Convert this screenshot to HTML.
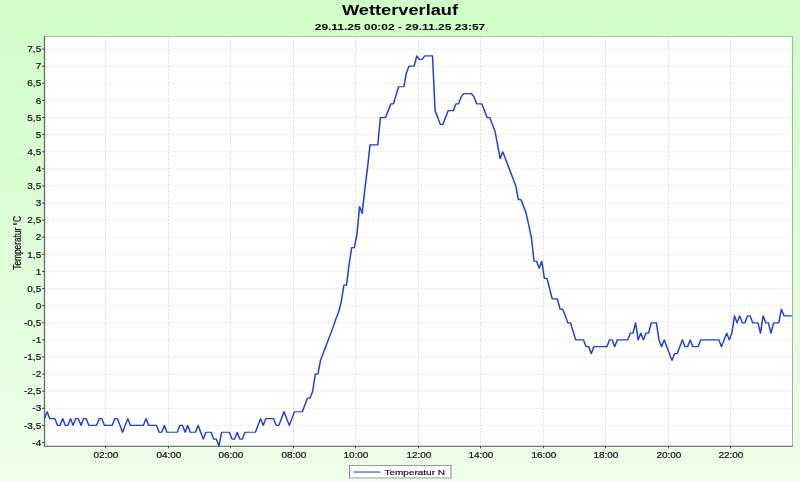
<!DOCTYPE html>
<html><head><meta charset="utf-8"><title>Wetterverlauf</title>
<style>
html,body{margin:0;padding:0;background:#fff;}
body{width:800px;height:481px;overflow:hidden;}
svg{display:block;font-family:"Liberation Sans",Arial,sans-serif;}
</style></head><body>
<svg width="800" height="481" viewBox="0 0 800 481">
<defs><linearGradient id="bg" x1="0" y1="0" x2="0" y2="1">
<stop offset="0" stop-color="#cffdc7"/><stop offset="1" stop-color="#eefeea"/></linearGradient></defs>
<rect x="0" y="0" width="800" height="481" fill="url(#bg)"/>
<g transform="scale(1,0.80167)">
<text x="400" y="18.6" text-anchor="middle" font-size="18" font-weight="bold" fill="#000" textLength="116.2" lengthAdjust="spacingAndGlyphs">Wetterverlauf</text>
<text x="400" y="37.7" text-anchor="middle" font-size="12" font-weight="bold" fill="#000">29.11.25 00:02 - 29.11.25 23:57</text>
<rect x="44.5" y="45.6" width="748.0" height="511.04999999999995" fill="#fff"/>
<g stroke="#cacaca" stroke-width="0.5" stroke-dasharray="2 2" fill="none">
<line x1="44.5" x2="792.5" y1="552.03" y2="552.03"/>
<line x1="44.5" x2="792.5" y1="530.70" y2="530.70"/>
<line x1="44.5" x2="792.5" y1="509.36" y2="509.36"/>
<line x1="44.5" x2="792.5" y1="488.02" y2="488.02"/>
<line x1="44.5" x2="792.5" y1="466.69" y2="466.69"/>
<line x1="44.5" x2="792.5" y1="445.35" y2="445.35"/>
<line x1="44.5" x2="792.5" y1="424.01" y2="424.01"/>
<line x1="44.5" x2="792.5" y1="402.68" y2="402.68"/>
<line x1="44.5" x2="792.5" y1="381.34" y2="381.34"/>
<line x1="44.5" x2="792.5" y1="360.00" y2="360.00"/>
<line x1="44.5" x2="792.5" y1="338.67" y2="338.67"/>
<line x1="44.5" x2="792.5" y1="317.33" y2="317.33"/>
<line x1="44.5" x2="792.5" y1="295.99" y2="295.99"/>
<line x1="44.5" x2="792.5" y1="274.66" y2="274.66"/>
<line x1="44.5" x2="792.5" y1="253.32" y2="253.32"/>
<line x1="44.5" x2="792.5" y1="231.98" y2="231.98"/>
<line x1="44.5" x2="792.5" y1="210.65" y2="210.65"/>
<line x1="44.5" x2="792.5" y1="189.31" y2="189.31"/>
<line x1="44.5" x2="792.5" y1="167.97" y2="167.97"/>
<line x1="44.5" x2="792.5" y1="146.64" y2="146.64"/>
<line x1="44.5" x2="792.5" y1="125.30" y2="125.30"/>
<line x1="44.5" x2="792.5" y1="103.96" y2="103.96"/>
<line x1="44.5" x2="792.5" y1="82.63" y2="82.63"/>
<line x1="44.5" x2="792.5" y1="61.29" y2="61.29"/>
</g>
<g stroke="#c6c6c6" stroke-width="0.7" stroke-dasharray="2 2" fill="none">
<line y1="45.6" y2="556.65" x1="105.50" x2="105.50"/>
<line y1="45.6" y2="556.65" x1="168.50" x2="168.50"/>
<line y1="45.6" y2="556.65" x1="230.50" x2="230.50"/>
<line y1="45.6" y2="556.65" x1="293.50" x2="293.50"/>
<line y1="45.6" y2="556.65" x1="355.50" x2="355.50"/>
<line y1="45.6" y2="556.65" x1="418.50" x2="418.50"/>
<line y1="45.6" y2="556.65" x1="480.50" x2="480.50"/>
<line y1="45.6" y2="556.65" x1="543.50" x2="543.50"/>
<line y1="45.6" y2="556.65" x1="605.50" x2="605.50"/>
<line y1="45.6" y2="556.65" x1="668.50" x2="668.50"/>
<line y1="45.6" y2="556.65" x1="730.50" x2="730.50"/>
</g>
<rect x="44.5" y="45.6" width="748.0" height="511.04999999999995" fill="none" stroke="#a0b4a0" stroke-width="1"/>
<line x1="44.5" x2="44.5" y1="45.1" y2="557.25" stroke="#5e7062" stroke-width="1.3"/>
<line x1="44.5" x2="793.0" y1="556.65" y2="556.65" stroke="#5e7062" stroke-width="1.1"/>
<g stroke="#303830" stroke-width="1">
<line x1="42.0" x2="44.5" y1="552.03" y2="552.03"/>
<line x1="42.0" x2="44.5" y1="530.70" y2="530.70"/>
<line x1="42.0" x2="44.5" y1="509.36" y2="509.36"/>
<line x1="42.0" x2="44.5" y1="488.02" y2="488.02"/>
<line x1="42.0" x2="44.5" y1="466.69" y2="466.69"/>
<line x1="42.0" x2="44.5" y1="445.35" y2="445.35"/>
<line x1="42.0" x2="44.5" y1="424.01" y2="424.01"/>
<line x1="42.0" x2="44.5" y1="402.68" y2="402.68"/>
<line x1="42.0" x2="44.5" y1="381.34" y2="381.34"/>
<line x1="42.0" x2="44.5" y1="360.00" y2="360.00"/>
<line x1="42.0" x2="44.5" y1="338.67" y2="338.67"/>
<line x1="42.0" x2="44.5" y1="317.33" y2="317.33"/>
<line x1="42.0" x2="44.5" y1="295.99" y2="295.99"/>
<line x1="42.0" x2="44.5" y1="274.66" y2="274.66"/>
<line x1="42.0" x2="44.5" y1="253.32" y2="253.32"/>
<line x1="42.0" x2="44.5" y1="231.98" y2="231.98"/>
<line x1="42.0" x2="44.5" y1="210.65" y2="210.65"/>
<line x1="42.0" x2="44.5" y1="189.31" y2="189.31"/>
<line x1="42.0" x2="44.5" y1="167.97" y2="167.97"/>
<line x1="42.0" x2="44.5" y1="146.64" y2="146.64"/>
<line x1="42.0" x2="44.5" y1="125.30" y2="125.30"/>
<line x1="42.0" x2="44.5" y1="103.96" y2="103.96"/>
<line x1="42.0" x2="44.5" y1="82.63" y2="82.63"/>
<line x1="42.0" x2="44.5" y1="61.29" y2="61.29"/>
<line y1="556.65" y2="559.25" x1="105.50" x2="105.50"/>
<line y1="556.65" y2="559.25" x1="168.50" x2="168.50"/>
<line y1="556.65" y2="559.25" x1="230.50" x2="230.50"/>
<line y1="556.65" y2="559.25" x1="293.50" x2="293.50"/>
<line y1="556.65" y2="559.25" x1="355.50" x2="355.50"/>
<line y1="556.65" y2="559.25" x1="418.50" x2="418.50"/>
<line y1="556.65" y2="559.25" x1="480.50" x2="480.50"/>
<line y1="556.65" y2="559.25" x1="543.50" x2="543.50"/>
<line y1="556.65" y2="559.25" x1="605.50" x2="605.50"/>
<line y1="556.65" y2="559.25" x1="668.50" x2="668.50"/>
<line y1="556.65" y2="559.25" x1="730.50" x2="730.50"/>
</g>
<g font-size="10" fill="#101010" stroke="#101010" stroke-width="0.22" text-anchor="end">
<text transform="translate(41.2,555.93) scale(1,1.16)">-4</text>
<text transform="translate(41.2,534.60) scale(1,1.16)">-3,5</text>
<text transform="translate(41.2,513.26) scale(1,1.16)">-3</text>
<text transform="translate(41.2,491.92) scale(1,1.16)">-2,5</text>
<text transform="translate(41.2,470.59) scale(1,1.16)">-2</text>
<text transform="translate(41.2,449.25) scale(1,1.16)">-1,5</text>
<text transform="translate(41.2,427.91) scale(1,1.16)">-1</text>
<text transform="translate(41.2,406.58) scale(1,1.16)">-0,5</text>
<text transform="translate(41.2,385.24) scale(1,1.16)">0</text>
<text transform="translate(41.2,363.90) scale(1,1.16)">0,5</text>
<text transform="translate(41.2,342.57) scale(1,1.16)">1</text>
<text transform="translate(41.2,321.23) scale(1,1.16)">1,5</text>
<text transform="translate(41.2,299.89) scale(1,1.16)">2</text>
<text transform="translate(41.2,278.56) scale(1,1.16)">2,5</text>
<text transform="translate(41.2,257.22) scale(1,1.16)">3</text>
<text transform="translate(41.2,235.88) scale(1,1.16)">3,5</text>
<text transform="translate(41.2,214.55) scale(1,1.16)">4</text>
<text transform="translate(41.2,193.21) scale(1,1.16)">4,5</text>
<text transform="translate(41.2,171.87) scale(1,1.16)">5</text>
<text transform="translate(41.2,150.54) scale(1,1.16)">5,5</text>
<text transform="translate(41.2,129.20) scale(1,1.16)">6</text>
<text transform="translate(41.2,107.86) scale(1,1.16)">6,5</text>
<text transform="translate(41.2,86.53) scale(1,1.16)">7</text>
<text transform="translate(41.2,65.19) scale(1,1.16)">7,5</text>
</g>
<g font-size="10" fill="#101010" stroke="#101010" stroke-width="0.22" text-anchor="middle">
<text transform="translate(105.90,571) scale(1,1.16)">02:00</text>
<text transform="translate(168.90,571) scale(1,1.16)">04:00</text>
<text transform="translate(230.90,571) scale(1,1.16)">06:00</text>
<text transform="translate(293.90,571) scale(1,1.16)">08:00</text>
<text transform="translate(355.90,571) scale(1,1.16)">10:00</text>
<text transform="translate(418.90,571) scale(1,1.16)">12:00</text>
<text transform="translate(480.90,571) scale(1,1.16)">14:00</text>
<text transform="translate(543.90,571) scale(1,1.16)">16:00</text>
<text transform="translate(605.90,571) scale(1,1.16)">18:00</text>
<text transform="translate(668.90,571) scale(1,1.16)">20:00</text>
<text transform="translate(730.90,571) scale(1,1.16)">22:00</text>
</g>
<text transform="translate(20.5,303.0) rotate(-90)" text-anchor="middle" font-size="10" fill="#101010" stroke="#101010" stroke-width="0.22" textLength="67" lengthAdjust="spacingAndGlyphs">Temperatur °C</text>
<polyline points="44.5,522.2 47.1,513.6 49.7,522.2 52.3,522.2 54.9,522.2 57.5,530.7 60.1,530.7 62.7,522.2 65.3,530.7 67.9,530.7 70.5,522.2 73.1,530.7 75.7,522.2 78.3,522.2 81.0,530.7 83.6,522.2 86.2,522.2 88.8,530.7 91.4,530.7 94.0,530.7 96.6,530.7 99.2,522.2 101.8,522.2 104.4,530.7 107.0,530.7 109.6,530.7 112.2,530.7 114.8,522.2 117.4,522.2 120.0,530.7 122.6,539.2 125.2,530.7 127.8,522.2 130.4,530.7 133.0,530.7 135.6,530.7 138.2,530.7 140.8,530.7 143.4,530.7 146.0,522.2 148.7,530.7 151.3,530.7 153.9,530.7 156.5,530.7 159.1,539.2 161.7,539.2 164.3,530.7 166.9,539.2 169.5,539.2 172.1,539.2 174.7,539.2 177.3,539.2 179.9,530.7 182.5,530.7 185.1,539.2 187.7,530.7 190.3,539.2 192.9,539.2 195.5,539.2 198.1,530.7 200.7,539.2 203.3,547.8 205.9,539.2 208.5,539.2 211.1,539.2 213.7,547.8 216.4,547.8 219.0,556.3 221.6,539.2 224.2,539.2 226.8,539.2 229.4,539.2 232.0,547.8 234.6,547.8 237.2,539.2 239.8,547.8 242.4,547.8 245.0,539.2 247.6,539.2 250.2,539.2 252.8,539.2 255.4,539.2 258.0,530.7 260.6,522.2 263.2,530.7 265.8,522.2 268.4,522.2 271.0,522.2 273.6,522.2 276.2,530.7 278.8,530.7 281.4,522.2 284.0,513.6 286.7,522.2 289.3,530.7 291.9,522.2 294.5,513.6 297.1,513.6 299.7,513.6 302.3,513.6 304.9,505.1 307.5,496.6 310.1,496.6 312.7,488.0 315.3,466.7 317.9,466.7 320.5,449.6 323.1,441.1 325.7,432.5 328.3,424.0 330.9,415.5 333.5,406.9 336.1,397.1 338.7,389.0 341.3,376.2 343.9,355.7 346.5,355.7 349.1,330.1 351.7,308.8 354.4,308.8 357.0,291.7 359.6,257.6 362.2,266.1 364.8,236.2 367.4,210.6 370.0,180.8 372.6,180.8 375.2,180.8 377.8,180.8 380.4,146.6 383.0,146.6 385.6,146.6 388.2,138.1 390.8,129.6 393.4,129.6 396.0,118.9 398.6,108.2 401.2,108.2 403.8,108.2 406.4,91.2 409.0,82.6 411.6,82.6 414.2,82.6 416.8,69.8 419.4,74.1 422.1,74.1 424.7,69.8 427.3,69.8 429.9,69.8 432.5,69.8 435.1,138.1 437.7,146.6 440.3,155.2 442.9,155.2 445.5,146.6 448.1,138.1 450.7,138.1 453.3,138.1 455.9,129.6 458.5,129.6 461.1,121.0 463.7,116.8 466.3,116.8 468.9,116.8 471.5,116.8 474.1,121.0 476.7,129.6 479.3,129.6 481.9,129.6 484.5,138.1 487.1,146.6 489.7,146.6 492.4,155.2 495.0,163.7 497.6,180.8 500.2,197.8 502.8,189.3 505.4,197.8 508.0,206.4 510.6,214.9 513.2,223.4 515.8,232.0 518.4,249.1 521.0,249.1 523.6,257.6 526.2,266.1 528.8,281.1 531.4,296.0 534.0,325.9 536.6,325.9 539.2,334.4 541.8,325.9 544.4,347.2 547.0,347.2 549.6,360.0 552.2,372.8 554.8,372.8 557.4,372.8 560.1,385.6 562.7,385.6 565.3,394.1 567.9,402.7 570.5,402.7 573.1,413.3 575.7,424.0 578.3,424.0 580.9,424.0 583.5,424.0 586.1,432.5 588.7,432.5 591.3,441.1 593.9,432.5 596.5,432.5 599.1,432.5 601.7,432.5 604.3,432.5 606.9,432.5 609.5,424.0 612.1,424.0 614.7,432.5 617.3,424.0 619.9,424.0 622.5,424.0 625.1,424.0 627.8,424.0 630.4,415.5 633.0,415.5 635.6,402.7 638.2,424.0 640.8,415.5 643.4,424.0 646.0,415.5 648.6,415.5 651.2,402.7 653.8,402.7 656.4,402.7 659.0,424.0 661.6,432.5 664.2,424.0 666.8,432.5 669.4,441.1 672.0,449.6 674.6,441.1 677.2,441.1 679.8,432.5 682.4,424.0 685.0,432.5 687.6,432.5 690.2,424.0 692.8,432.5 695.5,432.5 698.1,432.5 700.7,424.0 703.3,424.0 705.9,424.0 708.5,424.0 711.1,424.0 713.7,424.0 716.3,424.0 718.9,424.0 721.5,432.5 724.1,424.0 726.7,415.5 729.3,424.0 731.9,415.5 734.5,394.1 737.1,402.7 739.7,394.1 742.3,402.7 744.9,402.7 747.5,394.1 750.1,394.1 752.7,402.7 755.3,402.7 757.9,402.7 760.5,415.5 763.1,394.1 765.8,402.7 768.4,402.7 771.0,415.5 773.6,402.7 776.2,402.7 778.8,402.7 781.4,385.6 784.0,394.1 786.6,394.1 789.2,394.1 791.8,394.1" fill="none" stroke="#2040d4" stroke-width="1.5" stroke-linejoin="round" stroke-linecap="butt"/>
<rect x="349.5" y="580.5" width="101.5" height="15.7" fill="#fff" stroke="#808880" stroke-width="1"/>
<line x1="353.5" x2="380.5" y1="588.8" y2="588.8" stroke="#2040d4" stroke-width="1.3"/>
<text x="384.5" y="592.5" font-size="10" fill="#101010" stroke="#101010" stroke-width="0.22">Temperatur N</text>
</g>
</svg>
</body></html>
